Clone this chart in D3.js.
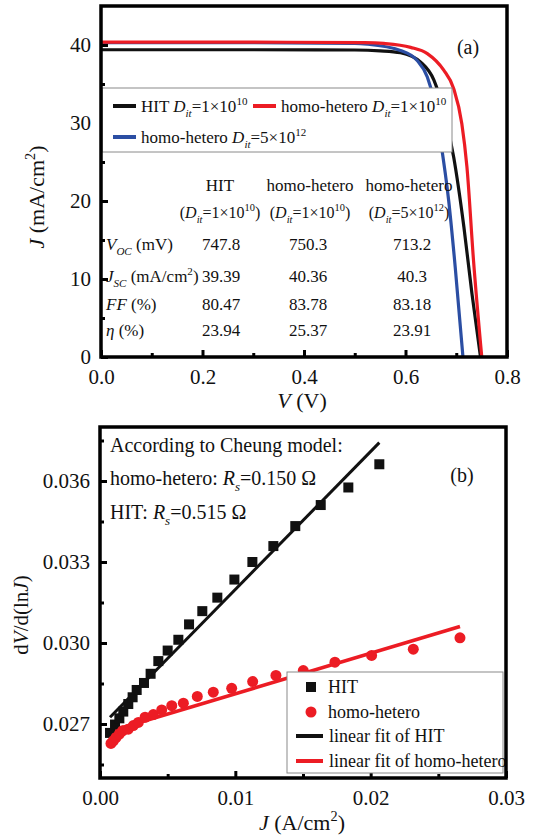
<!DOCTYPE html>
<html>
<head>
<meta charset="utf-8">
<script src="https://d3js.org/d3.v7.min.js"></script>
<style>
  body { margin: 0; background: #fff; }
  svg text { font-family: "Liberation Serif", "Tinos", "Times New Roman", "DejaVu Serif", serif; }
</style>
</head>
<body>
<svg width="534" height="839"></svg>
<script>
// ---- panel (a): J-V curves ----
var hitJV = [[0,39.39],[0.3,39.39],[0.5,39.36],[0.55,39.25],[0.59,39.0],[0.63,37.8],[0.656,35.5],[0.675,31.6],[0.695,25.6],[0.715,16.7],[0.731,8.1],[0.7478,0]];
var homoJV = [[0,40.36],[0.3,40.36],[0.52,40.3],[0.557,40.2],[0.61,39.7],[0.643,38.9],[0.675,36.8],[0.695,34.4],[0.711,29.9],[0.721,24.4],[0.734,12.4],[0.7503,0]];
var homo5JV = [[0,40.3],[0.3,40.3],[0.5,40.2],[0.525,40.1],[0.59,39.3],[0.623,38.0],[0.643,35.9],[0.656,32.9],[0.669,27.8],[0.685,20.1],[0.698,11.5],[0.7132,0]];
var aXTicks = [0.0, 0.2, 0.4, 0.6, 0.8];
var aYTicks = [0, 10, 20, 30, 40];

var tableCols = ["HIT", "homo-hetero", "homo-hetero"];
var tableDit = [["1", "10"], ["1", "10"], ["5", "12"]];
var vocVals = ["747.8", "750.3", "713.2"];
var jscVals = ["39.39", "40.36", "40.3"];
var ffVals = ["80.47", "83.78", "83.18"];
var etaVals = ["23.94", "25.37", "23.91"];

// ---- panel (b): Cheung plot ----
var hitPts = [[0.00074,0.02667],[0.00111,0.02698],[0.00143,0.02721],[0.00172,0.02746],[0.00209,0.02774],[0.00241,0.02799],[0.00271,0.02826],[0.00325,0.02852],[0.00374,0.02886],[0.00431,0.02933],[0.00500,0.02972],[0.00579,0.03012],[0.00658,0.03069],[0.00756,0.03118],[0.00867,0.03168],[0.00993,0.03235],[0.01126,0.03300],[0.01281,0.03359],[0.01443,0.03433],[0.01631,0.03511],[0.01835,0.03576],[0.02064,0.03662]];
var homoPts = [[0.00081,0.02628],[0.00099,0.02638],[0.00118,0.02650],[0.00143,0.02663],[0.00167,0.02675],[0.00209,0.02681],[0.00246,0.02694],[0.00283,0.02706],[0.00333,0.02725],[0.00394,0.02735],[0.00456,0.02752],[0.00530,0.02768],[0.00616,0.02777],[0.00719,0.02802],[0.00837,0.02818],[0.00973,0.02832],[0.01128,0.02857],[0.01300,0.02880],[0.01502,0.02898],[0.01736,0.02929],[0.02007,0.02954],[0.02315,0.02977],[0.02660,0.03019]];
var hitFit = [[0.00074,0.02725],[0.02064,0.03742]];
var homoFit = [[0.00074,0.02673],[0.0266,0.03061]];
var bXTicks = [0.00, 0.01, 0.02, 0.03];
var bYTicks = [0.027, 0.030, 0.033, 0.036];

var FONT = "Liberation Serif";
var svg = d3.select("svg");

// rich text helper: parts = [text, kind]; kind: "", "i", "sub", "isub", "sup"
function rich(g, x, y, parts, fs, anchor) {
  var t = g.append("text").attr("x", x).attr("y", y)
      .attr("font-family", FONT)
      .attr("font-size", fs).attr("text-anchor", anchor || "start").attr("fill", "#111");
  var shift = 0;
  parts.forEach(function(p) {
    var kind = p[1] || "";
    var target = (kind == "sub" || kind == "isub") ? fs * 0.32 : kind == "sup" ? -fs * 0.42 : 0;
    var ts = t.append("tspan").text(p[0]).attr("dy", target - shift);
    shift = target;
    if (kind == "sub" || kind == "isub" || kind == "sup") ts.attr("font-size", fs * 0.65);
    if (kind == "i" || kind == "isub") ts.attr("font-style", "italic");
  });
  return t;
}

function styleAxis(g) {
  g.attr("font-family", FONT);
  g.select(".domain").remove();
  g.selectAll(".tick line").attr("stroke", "#000").attr("stroke-width", 3);
  g.selectAll(".tick text").attr("font-size", 21).attr("fill", "#111").attr("font-family", FONT);
}

function frame(x, y) {
  svg.append("rect")
    .attr("x", x.range()[0]).attr("y", y.range()[1])
    .attr("width", x.range()[1] - x.range()[0])
    .attr("height", y.range()[0] - y.range()[1])
    .attr("fill", "none").attr("stroke", "#000").attr("stroke-width", 3.5);
}

// ================= panel (a) =================
var xA = d3.scaleLinear().domain([0, 0.8]).range([101, 507]);
var yA = d3.scaleLinear().domain([0, 45]).range([357, 6]);

var lineA = d3.line().x(function(d) { return xA(d[0]); }).y(function(d) { return yA(d[1]); })
    .curve(d3.curveMonotoneX);

var gA = svg.append("g");
[[hitJV, "#111"], [homo5JV, "#2b4ea3"], [homoJV, "#ec1c24"]].forEach(function(s) {
  gA.append("path").datum(s[0]).attr("d", lineA)
    .attr("fill", "none").attr("stroke", s[1]).attr("stroke-width", 3.2);
});

gA.append("g").attr("transform", "translate(0," + yA(0) + ")")
  .call(d3.axisBottom(xA).tickValues([0.1, 0.3, 0.5, 0.7]).tickSize(-4).tickFormat(""))
  .call(styleAxis);
gA.append("g").attr("transform", "translate(0," + yA(0) + ")")
  .call(d3.axisBottom(xA).tickValues(aXTicks).tickSize(-7).tickPadding(12).tickFormat(d3.format(".1f")))
  .call(styleAxis);
gA.append("g").attr("transform", "translate(" + xA(0) + ",0)")
  .call(d3.axisLeft(yA).tickValues([5, 15, 25, 35]).tickSize(-4).tickFormat(""))
  .call(styleAxis);
gA.append("g").attr("transform", "translate(" + xA(0) + ",0)")
  .call(d3.axisLeft(yA).tickValues(aYTicks).tickSize(-7).tickPadding(10))
  .call(styleAxis);

// legend (a)
var legA = gA.append("g");
legA.append("rect").attr("x", 102).attr("y", 88).attr("width", 350).attr("height", 64)
  .attr("fill", "#fff").attr("stroke", "#8a8a8a").attr("stroke-width", 1);
[[113, 106, "#111", [["HIT "], ["D", "i"], ["it", "isub"], ["=1×10"], ["10", "sup"]]],
 [253, 106, "#ec1c24", [["homo-hetero "], ["D", "i"], ["it", "isub"], ["=1×10"], ["10", "sup"]]],
 [113, 137, "#2b4ea3", [["homo-hetero "], ["D", "i"], ["it", "isub"], ["=5×10"], ["12", "sup"]]]
].forEach(function(e) {
  legA.append("line").attr("x1", e[0]).attr("x2", e[0] + 23).attr("y1", e[1]).attr("y2", e[1])
    .attr("stroke", e[2]).attr("stroke-width", 4);
  rich(legA, e[0] + 28, e[1] + 6, e[3], 17);
});

// table
var colX = [220, 310, 409];
var tab = gA.append("g");
tableCols.forEach(function(c, i) {
  rich(tab, colX[i], 191, [[c]], 17, "middle");
  rich(tab, colX[i], 218, [["(", ""], ["D", "i"], ["it", "isub"], ["=" + tableDit[i][0] + "×10"], [tableDit[i][1], "sup"], [")"]], 16, "middle");
});
var rows = [
  [250, [["V", "i"], ["OC", "isub"], [" (mV)"]], vocVals],
  [282, [["J", "i"], ["SC", "isub"], [" (mA/cm"], ["2", "sup"], [")"]], jscVals],
  [310, [["FF", "i"], [" (%)"]], ffVals],
  [336, [["η", "i"], [" (%)"]], etaVals]
];
rows.forEach(function(r) {
  rich(tab, 106, r[0], r[1], 17);
  r[2].forEach(function(v, i) {
    rich(tab, [221, 308, 412][i], r[0], [[v]], 17, "middle");
  });
});

rich(gA, 468, 54, [["(a)"]], 20, "middle");
rich(gA, 302, 408, [["V", "i"], [" (V)"]], 22, "middle");
rich(gA.append("g").attr("transform", "translate(44,197) rotate(-90)"), 0, 0,
  [["J", "i"], [" (mA/cm"], ["2", "sup"], [")"]], 22, "middle");

frame(xA, yA);

// ================= panel (b) =================
var xB = d3.scaleLinear().domain([0, 0.03]).range([100, 506]);
var yB = d3.scaleLinear().domain([0.025, 0.038]).range([778, 427]);
var gB = svg.append("g");

var lineB = d3.line().x(function(d) { return xB(d[0]); }).y(function(d) { return yB(d[1]); });
gB.append("path").datum(hitFit).attr("d", lineB).attr("stroke", "#111").attr("stroke-width", 3).attr("fill", "none");
gB.append("path").datum(homoFit).attr("d", lineB).attr("stroke", "#ec1c24").attr("stroke-width", 3.5).attr("fill", "none");

gB.selectAll(".sq").data(hitPts).enter().append("rect")
  .attr("x", function(d) { return xB(d[0]) - 5; }).attr("y", function(d) { return yB(d[1]) - 5; })
  .attr("width", 10).attr("height", 10).attr("fill", "#111");
gB.selectAll(".ci").data(homoPts).enter().append("circle")
  .attr("cx", function(d) { return xB(d[0]); }).attr("cy", function(d) { return yB(d[1]); })
  .attr("r", 5.5).attr("fill", "#ec1c24");

gB.append("g").attr("transform", "translate(0," + yB.range()[0] + ")")
  .call(d3.axisBottom(xB).tickValues([0.005, 0.015, 0.025]).tickSize(-4).tickFormat(""))
  .call(styleAxis);
gB.append("g").attr("transform", "translate(0," + yB.range()[0] + ")")
  .call(d3.axisBottom(xB).tickValues(bXTicks).tickSize(-7).tickPadding(12)
    .tickFormat(function(d) { return d == 0.03 ? "0.03" : d3.format(".2f")(d); }))
  .call(styleAxis);
gB.append("g").attr("transform", "translate(" + xB(0) + ",0)")
  .call(d3.axisLeft(yB).tickValues([0.0255, 0.0285, 0.0315, 0.0345, 0.0375]).tickSize(-4).tickFormat(""))
  .call(styleAxis);
gB.append("g").attr("transform", "translate(" + xB(0) + ",0)")
  .call(d3.axisLeft(yB).tickValues(bYTicks).tickSize(-7).tickPadding(10).tickFormat(d3.format(".3f")))
  .call(styleAxis);

// annotation
rich(gB, 110, 452, [["According to Cheung model:"]], 20);
rich(gB, 110, 485, [["homo-hetero: "], ["R", "i"], ["s", "isub"], ["=0.150 Ω"]], 20);
rich(gB, 110, 519, [["HIT: "], ["R", "i"], ["s", "isub"], ["=0.515 Ω"]], 20);
rich(gB, 462, 482, [["(b)"]], 20, "middle");

// legend (b)
var legB = gB.append("g");
legB.append("rect").attr("x", 287).attr("y", 672).attr("width", 216).attr("height", 101)
  .attr("fill", "#fff").attr("stroke", "#8a8a8a").attr("stroke-width", 1);
legB.append("rect").attr("x", 306).attr("y", 682).attr("width", 10).attr("height", 10).attr("fill", "#111");
rich(legB, 328, 693, [["HIT"]], 18);
legB.append("circle").attr("cx", 311).attr("cy", 712).attr("r", 5.5).attr("fill", "#ec1c24");
rich(legB, 328, 718, [["homo-hetero"]], 18);
legB.append("line").attr("x1", 296).attr("x2", 323).attr("y1", 736).attr("y2", 736).attr("stroke", "#111").attr("stroke-width", 4);
rich(legB, 329, 742, [["linear fit of HIT"]], 18);
legB.append("line").attr("x1", 296).attr("x2", 323).attr("y1", 761).attr("y2", 761).attr("stroke", "#ec1c24").attr("stroke-width", 4);
rich(legB, 329, 767, [["linear fit of homo-hetero"]], 18);

rich(gB, 302, 830, [["J", "i"], [" (A/cm"], ["2", "sup"], [")"]], 22, "middle");
rich(gB.append("g").attr("transform", "translate(28,615) rotate(-90)"), 0, 0,
  [["d"], ["V", "i"], ["/d(ln"], ["J", "i"], [")"]], 21, "middle");

frame(xB, yB);
</script>
</body>
</html>
